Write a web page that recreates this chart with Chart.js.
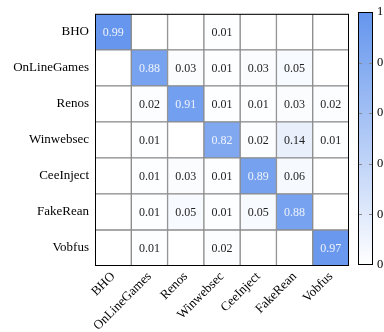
<!DOCTYPE html>
<html>
<head>
<meta charset="utf-8">
<script src="https://cdn.jsdelivr.net/npm/chart.js@4"></script>
<style>
  body { margin: 0; background: #fff; }
  #wrap { position: relative; width: 384px; height: 332px; overflow: hidden; }
  #matrix { position: absolute; left: 0; top: 0; }
  #bar { position: absolute; left: 340px; top: 0; }
</style>
</head>
<body>
<div id="wrap">
  <canvas id="matrix" width="384" height="332"></canvas>
  <canvas id="bar" width="80" height="332"></canvas>
</div>
<script>
const classes = ['BHO', 'OnLineGames', 'Renos', 'Winwebsec', 'CeeInject', 'FakeRean', 'Vobfus'];

// rows = true class, columns = predicted class
const bho         = [0.99, 0,    0,    0.01, 0,    0,    0];
const onLineGames = [0,    0.88, 0.03, 0.01, 0.03, 0.05, 0];
const renos       = [0,    0.02, 0.91, 0.01, 0.01, 0.03, 0.02];
const winwebsec   = [0,    0.01, 0,    0.82, 0.02, 0.14, 0.01];
const ceeInject   = [0,    0.01, 0.03, 0.01, 0.89, 0.06, 0];
const fakeRean    = [0,    0.01, 0.05, 0.01, 0.05, 0.88, 0];
const vobfus      = [0,    0.01, 0,    0.02, 0,    0,    0.97];

const colorbarTicks = [0, 0.2, 0.4, 0.6, 0.8, 1];

const matrix = [bho, onLineGames, renos, winwebsec, ceeInject, fakeRean, vobfus];

const hi = [100, 149, 237];
function cellColor(v) {
    const c = hi.map(h => Math.round(255 - v * (255 - h)));
    return `rgb(${c[0]}, ${c[1]}, ${c[2]})`;
}

const serif = "'Liberation Serif', 'DejaVu Serif', serif";

// one dataset per predicted column, stacked along x
const datasets = classes.map((c, j) => {
    const vals = matrix.map(r => r[j]);
    return {
        label: c,
        data: vals.map(() => 1),
        values: vals,
        backgroundColor: vals.map(cellColor),
        borderColor: '#8c8c8c',
        borderWidth: 1,
        borderSkipped: false,
        barPercentage: 1,
        categoryPercentage: 1
    };
});

const cellText = {
    id: 'cellText',
    afterDatasetsDraw(chart) {
        const ctx = chart.ctx;
        ctx.save();
        ctx.font = '12px ' + serif;
        ctx.textAlign = 'center';
        ctx.textBaseline = 'middle';
        chart.data.datasets.forEach((ds, j) => {
            chart.getDatasetMeta(j).data.forEach((el, i) => {
                const v = ds.values[i];
                if (!v) return;
                const p = el.getCenterPoint();
                ctx.fillStyle = v > 0.5 ? '#eef3fd' : '#222';
                ctx.fillText(v.toFixed(2), p.x, p.y + 1);
            });
        });
        const a = chart.chartArea;
        ctx.strokeStyle = '#000';
        ctx.lineWidth = 1;
        ctx.strokeRect(a.left + 0.5, a.top + 0.5, a.right - a.left - 1, a.bottom - a.top - 1);
        ctx.restore();
    }
};

new Chart(document.getElementById('matrix'), {
    type: 'bar',
    data: { labels: classes, datasets },
    options: {
        indexAxis: 'y',
        responsive: false,
        devicePixelRatio: 1,
        animation: false,
        layout: { padding: { top: 12, right: 35, left: 0, bottom: 0 } },
        plugins: { legend: { display: false }, tooltip: { enabled: false } },
        scales: {
            x: {
                stacked: true,
                min: 0,
                max: classes.length,
                grid: { display: false, drawTicks: false },
                border: { display: false },
                afterBuildTicks: s => { s.ticks = classes.map((c, i) => ({ value: i + 0.5 })); },
                afterFit: s => { s.height = 66; },
                ticks: {
                    minRotation: 45,
                    maxRotation: 45,
                    autoSkip: false,
                    padding: 3,
                    color: '#000',
                    font: { family: serif, size: 13 },
                    callback: v => classes[Math.floor(v)]
                }
            },
            y: {
                stacked: true,
                grid: { display: false, drawTicks: false },
                border: { display: false },
                afterFit: s => { s.width = 95; },
                ticks: {
                    padding: 6,
                    color: '#000',
                    font: { family: serif, size: 13 }
                }
            }
        }
    },
    plugins: [cellText]
});

// colorbar
const barMarks = {
    id: 'barMarks',
    afterDraw(chart) {
        const ctx = chart.ctx;
        const a = chart.chartArea;
        const y = chart.scales.y;
        ctx.save();
        ctx.strokeStyle = '#888';
        ctx.lineWidth = 1;
        colorbarTicks.slice(1, -1).forEach(t => {
            const py = Math.round(y.getPixelForValue(t)) + 0.5;
            ctx.beginPath();
            ctx.moveTo(a.left, py); ctx.lineTo(a.left + 4, py);
            ctx.moveTo(a.right - 4, py); ctx.lineTo(a.right, py);
            ctx.stroke();
        });
        ctx.strokeStyle = '#000';
        ctx.strokeRect(a.left + 0.5, a.top + 0.5, a.right - a.left - 1, a.bottom - a.top - 1);
        ctx.restore();
    }
};

new Chart(document.getElementById('bar'), {
    type: 'bar',
    data: {
        labels: [''],
        datasets: [{
            data: [1],
            barPercentage: 1,
            categoryPercentage: 1,
            backgroundColor: ctx => {
                const a = ctx.chart.chartArea;
                if (!a) return cellColor(0.5);
                const g = ctx.chart.ctx.createLinearGradient(0, a.bottom, 0, a.top);
                g.addColorStop(0, cellColor(0));
                g.addColorStop(1, cellColor(1));
                return g;
            }
        }]
    },
    options: {
        responsive: false,
        devicePixelRatio: 1,
        animation: false,
        layout: { padding: { top: 12, left: 18, bottom: 67, right: 36 } },
        plugins: { legend: { display: false }, tooltip: { enabled: false } },
        scales: {
            x: { display: false },
            y: {
                position: 'right',
                min: 0,
                max: 1,
                grid: { display: false, drawTicks: false },
                border: { display: false },
                afterBuildTicks: s => { s.ticks = colorbarTicks.map(v => ({ value: v })); },
                afterFit: s => { s.width = 11; },
                ticks: {
                    padding: 4,
                    color: '#000',
                    font: { family: serif, size: 12.5 },
                    callback: v => String(v)
                }
            }
        }
    },
    plugins: [barMarks]
});
</script>
</body>
</html>
